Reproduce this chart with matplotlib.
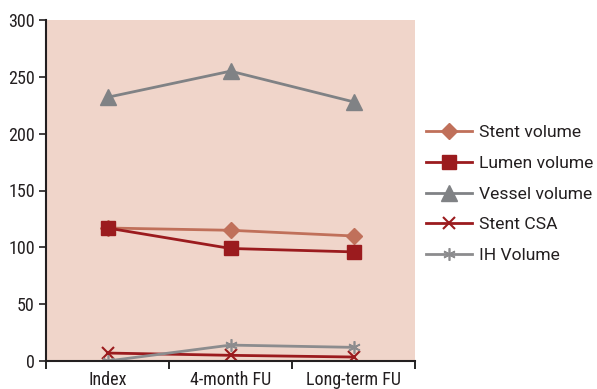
import matplotlib
matplotlib.use("Agg")
import matplotlib.pyplot as plt

categories = ["Index", "4-month FU", "Long-term FU"]
stent_volume = [117, 115, 110]
lumen_volume = [117, 99, 96]
vessel_volume = [232, 255, 228]
stent_csa = [7, 5, 3.5]
ih_volume = [0, 14, 12]
yticks = [0, 50, 100, 150, 200, 250, 300]

plt.rcParams["font.family"] = ["Roboto Condensed", "DejaVu Sans"]

fig = plt.figure(figsize=(5.97, 3.89), dpi=100)
ax = fig.add_axes([46/597, 1-361/389, (415-46)/597, (361-20)/389])
ax.set_facecolor("#F0D5CA")
x = list(range(len(categories)))

ax.plot(x, stent_volume, color="#C0705A", lw=2, marker="D", ms=7.8, label="Stent volume")
ax.plot(x, lumen_volume, color="#9B1B1E", lw=2, marker="s", ms=10.5, label="Lumen volume")
ax.plot(x, vessel_volume, color="#808285", lw=2, marker="^", ms=11, label="Vessel volume")
ax.plot(x, stent_csa, color="#9B1B1E", lw=2, marker="x", ms=8, mew=1.5, label="Stent CSA")
ax.plot(x, ih_volume, color="#8C8C8E", lw=2, marker=(6, 2, 0), ms=9, mew=1.2, label="IH Volume")

ax.set_xlim(-0.5, 2.5)
ax.set_ylim(0, 300)
ax.set_yticks(yticks)
ax.set_xticks([-0.5, 0.5, 1.5, 2.5])
ax.set_xticklabels([])
ax.set_xticks(x, minor=True)
ax.set_xticklabels(categories, minor=True)
ax.tick_params(axis="x", which="minor", length=0, labelsize=13, pad=7, colors="#231F20")
ax.tick_params(axis="x", which="major", length=6, direction="out", width=1.2)
ax.tick_params(axis="y", length=5, direction="out", labelsize=13, width=1.2, colors="#231F20", pad=3)
for s in ["top", "right"]:
    ax.spines[s].set_visible(False)
for s in ["left", "bottom"]:
    ax.spines[s].set_linewidth(1.5)
    ax.spines[s].set_color("#231F20")

leg = fig.legend(loc="center left", bbox_to_anchor=(426/597, 1-194/389), frameon=False,
                 prop={"family": ["Roboto", "DejaVu Sans"], "size": 12.6},
                 labelspacing=0.88, handlelength=2.6, handletextpad=0.45,
                 borderpad=0, borderaxespad=0)
for t in leg.get_texts():
    t.set_color("#231F20")

fig.savefig("out.png", dpi=100)
